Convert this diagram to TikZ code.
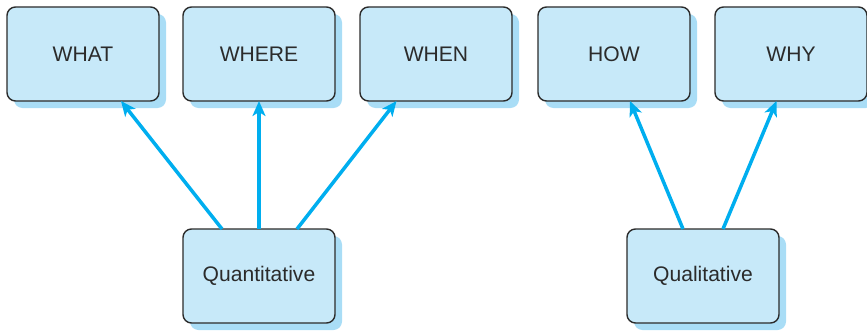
\documentclass[tikz,border=0pt]{standalone}
\usepackage{fontspec}
\setmainfont{Liberation Sans}
\usepackage{tikz}
\usetikzlibrary{positioning, shadows, arrows.meta}
\definecolor{boxfill}{HTML}{C7E9F9}
\definecolor{boxshade}{HTML}{A9DDF6}
\definecolor{boxline}{HTML}{2B2B2B}
\definecolor{arrowblue}{HTML}{00AEEF}
\tikzstyle{question} = [rectangle, rounded corners=0.17cm, minimum width=3.04cm, minimum height=1.88cm, outer sep=0pt, text centered, draw=boxline, line width=0.8pt, fill=boxfill, text=boxline, font=\fontsize{12}{14}\selectfont, drop shadow={shadow xshift=0.14cm, shadow yshift=-0.14cm, fill=boxshade, opacity=1}]
\tikzstyle{arrow} = [line width=2pt, draw=arrowblue, -{Stealth[length=0.3cm, width=0.26cm, inset=0.08cm]}]

\begin{document}
\begin{tikzpicture}
	\useasboundingbox (0,0) rectangle (17.34,-6.64);
	\node (what) [question] at (1.66,-1.08) {WHAT};
	\node (where) [question, right=0.48cm of what] {WHERE};
	\node (when) [question, right=0.5cm of where] {WHEN};
	\node (how) [question, right=0.52cm of when] {HOW};
	\node (why) [question, right=0.5cm of how] {WHY};
	\node (quant) [question, below=2.56cm of where] {Quantitative};
	\node (qual) [question, below=2.56cm of how, xshift=1.78cm] {Qualitative};
	
	\draw [arrow]([xshift=-0.74cm]quant.north) -- ([xshift=0.76cm]what.south);
	\draw [arrow](quant.north) -- (where.south);
	\draw [arrow]([xshift=0.76cm]quant.north) -- ([xshift=-0.79cm]when.south);
	\draw [arrow]([xshift=-0.4cm]qual.north) -- ([xshift=0.32cm]how.south);
	\draw [arrow]([xshift=0.4cm]qual.north) -- ([xshift=-0.29cm]why.south);
\end{tikzpicture}
\end{document}
